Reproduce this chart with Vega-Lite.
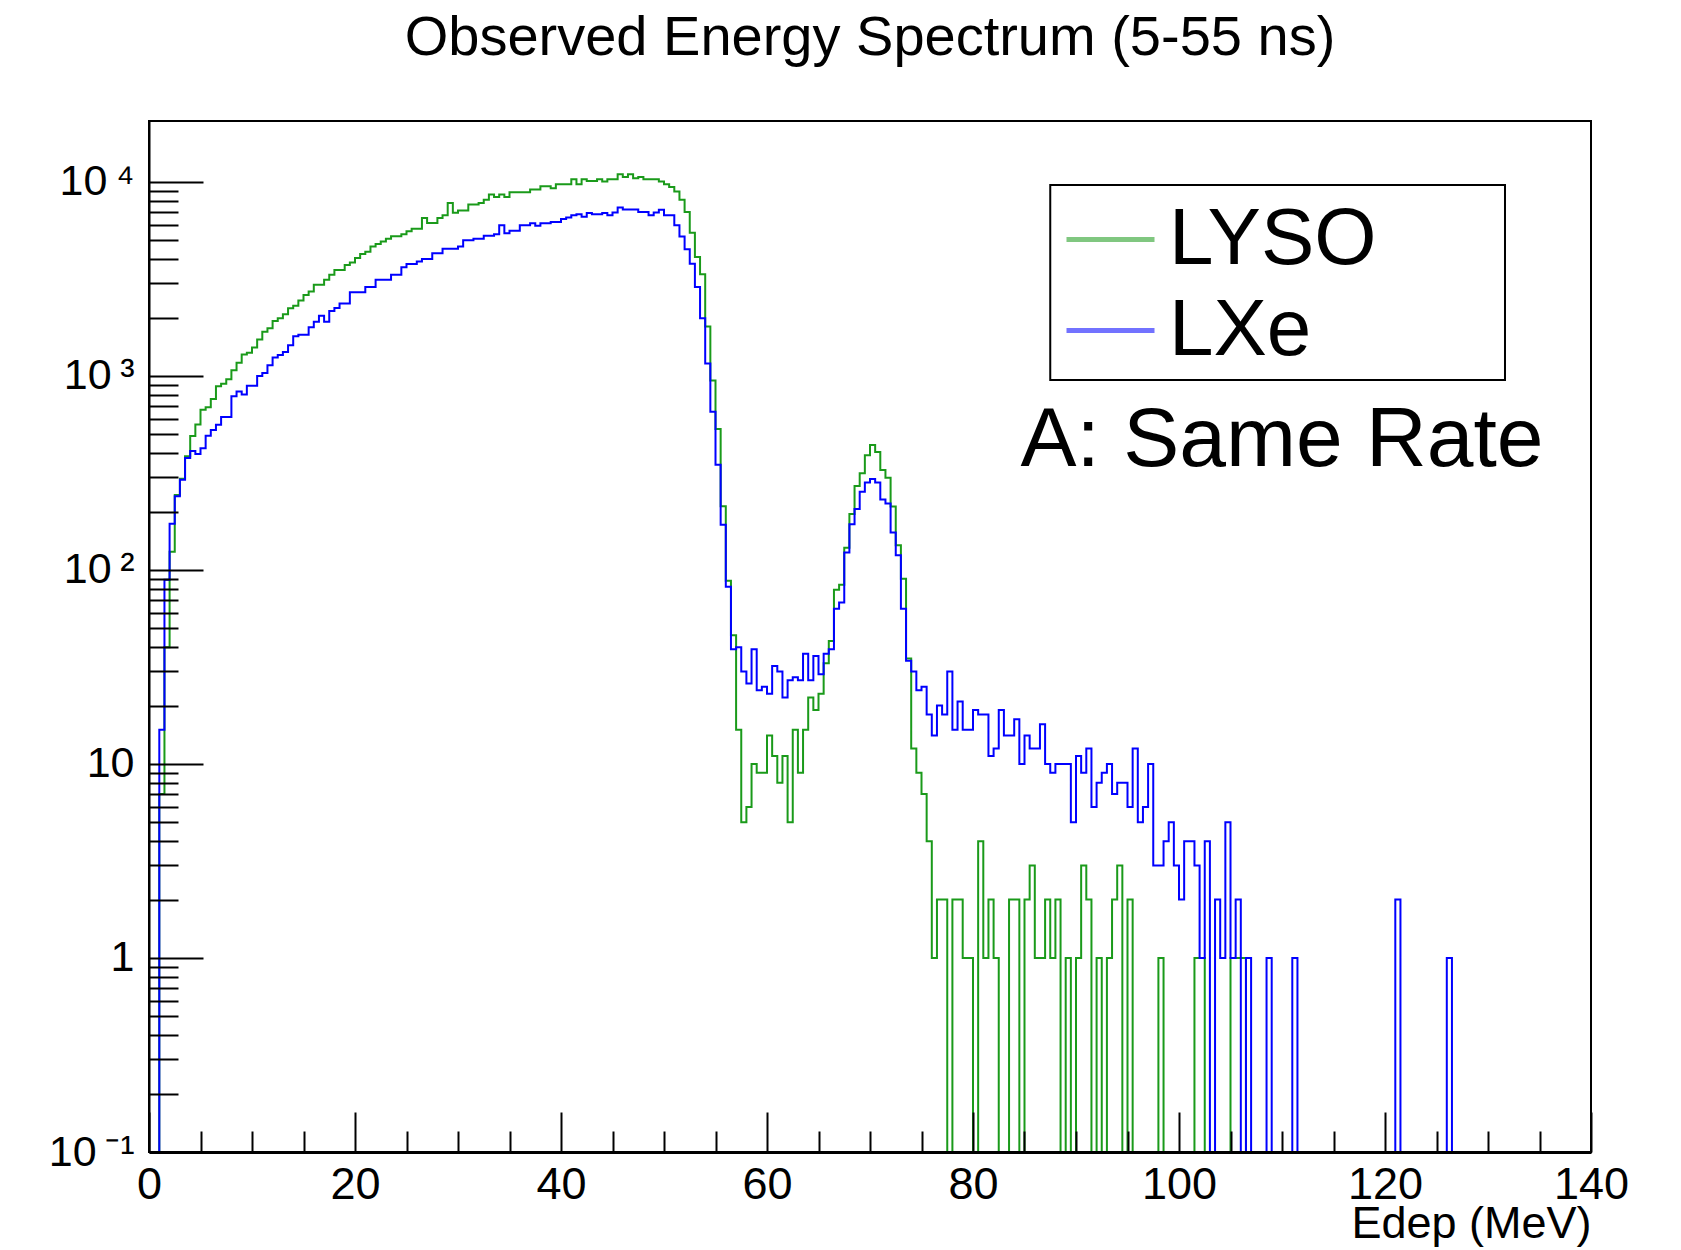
{
"$schema": "https://vega.github.io/schema/vega-lite/v6.json",
"width": 1442, "height": 1031,
"autosize": {"type": "none"},
"padding": {"left": 149, "top": 121, "right": 90, "bottom": 98},
"background": "white",
"title": {"text": "Observed Energy Spectrum (5-55 ns)", "font": "Liberation Sans", "fontSize": 56, "fontWeight": "normal", "color": "black", "anchor": "middle", "frame": "group", "baseline": "alphabetic", "offset": 10},
"config": {"view": {"stroke": "black", "strokeWidth": 2}, "font": "Liberation Sans"},
"layer": [
{
"data": {"values": [
{"e":0,"LYSO":0,"LXe":0},{"e":0.5,"LYSO":0,"LXe":0},{"e":1,"LYSO":7,"LXe":15},{"e":1.5,"LYSO":40,"LXe":89},
{"e":2,"LYSO":124,"LXe":173},{"e":2.5,"LYSO":243,"LXe":240},{"e":3,"LYSO":295,"LXe":292},{"e":3.5,"LYSO":386,"LXe":378},
{"e":4,"LYSO":490,"LXe":410},{"e":4.5,"LYSO":562,"LXe":396},{"e":5,"LYSO":670,"LXe":424},{"e":5.5,"LYSO":690,"LXe":492},
{"e":6,"LYSO":760,"LXe":527},{"e":6.5,"LYSO":885,"LXe":560},{"e":7,"LYSO":910,"LXe":614},{"e":7.5,"LYSO":960,"LXe":614},
{"e":8,"LYSO":1070,"LXe":785},{"e":8.5,"LYSO":1170,"LXe":831},{"e":9,"LYSO":1290,"LXe":803},{"e":9.5,"LYSO":1315,"LXe":890},
{"e":10,"LYSO":1400,"LXe":890},{"e":10.5,"LYSO":1540,"LXe":1000},{"e":11,"LYSO":1690,"LXe":1035},{"e":11.5,"LYSO":1760,"LXe":1135},
{"e":12,"LYSO":1920,"LXe":1245},{"e":12.5,"LYSO":1980,"LXe":1280},{"e":13,"LYSO":2080,"LXe":1330},{"e":13.5,"LYSO":2230,"LXe":1440},
{"e":14,"LYSO":2300,"LXe":1600},{"e":14.5,"LYSO":2450,"LXe":1630},{"e":15,"LYSO":2610,"LXe":1630},{"e":15.5,"LYSO":2720,"LXe":1780},
{"e":16,"LYSO":2950,"LXe":1900},{"e":16.5,"LYSO":2950,"LXe":2040},{"e":17,"LYSO":3130,"LXe":1900},{"e":17.5,"LYSO":3320,"LXe":2160},
{"e":18,"LYSO":3520,"LXe":2240},{"e":18.5,"LYSO":3520,"LXe":2360},{"e":19,"LYSO":3730,"LXe":2360},{"e":19.5,"LYSO":3840,"LXe":2700},
{"e":20,"LYSO":4050,"LXe":2700},{"e":20.5,"LYSO":4250,"LXe":2700},{"e":21,"LYSO":4370,"LXe":2870},{"e":21.5,"LYSO":4650,"LXe":2870},
{"e":22,"LYSO":4790,"LXe":3130},{"e":22.5,"LYSO":4930,"LXe":3130},{"e":23,"LYSO":5090,"LXe":3130},{"e":23.5,"LYSO":5250,"LXe":3320},
{"e":24,"LYSO":5250,"LXe":3320},{"e":24.5,"LYSO":5380,"LXe":3630},{"e":25,"LYSO":5560,"LXe":3770},{"e":25.5,"LYSO":5740,"LXe":3770},
{"e":26,"LYSO":5740,"LXe":3890},{"e":26.5,"LYSO":6520,"LXe":4000},{"e":27,"LYSO":6140,"LXe":4000},{"e":27.5,"LYSO":6140,"LXe":4290},
{"e":28,"LYSO":6520,"LXe":4290},{"e":28.5,"LYSO":6730,"LXe":4520},{"e":29,"LYSO":7790,"LXe":4520},{"e":29.5,"LYSO":6940,"LXe":4520},
{"e":30,"LYSO":7130,"LXe":4640},{"e":30.5,"LYSO":7130,"LXe":5000},{"e":31,"LYSO":7640,"LXe":5000},{"e":31.5,"LYSO":7640,"LXe":5100},
{"e":32,"LYSO":7790,"LXe":5100},{"e":32.5,"LYSO":8100,"LXe":5270},{"e":33,"LYSO":8600,"LXe":5270},{"e":33.5,"LYSO":8360,"LXe":5380},
{"e":34,"LYSO":8600,"LXe":5970},{"e":34.5,"LYSO":8360,"LXe":5440},{"e":35,"LYSO":8840,"LXe":5600},{"e":35.5,"LYSO":8840,"LXe":5600},
{"e":36,"LYSO":8840,"LXe":5970},{"e":36.5,"LYSO":8840,"LXe":5970},{"e":37,"LYSO":9130,"LXe":6130},{"e":37.5,"LYSO":9130,"LXe":5950},
{"e":38,"LYSO":9500,"LXe":6130},{"e":38.5,"LYSO":9500,"LXe":6130},{"e":39,"LYSO":9270,"LXe":6220},{"e":39.5,"LYSO":9730,"LXe":6220},
{"e":40,"LYSO":9730,"LXe":6430},{"e":40.5,"LYSO":9730,"LXe":6550},{"e":41,"LYSO":10320,"LXe":6730},{"e":41.5,"LYSO":9730,"LXe":6810},
{"e":42,"LYSO":10320,"LXe":6610},{"e":42.5,"LYSO":10120,"LXe":6920},{"e":43,"LYSO":10120,"LXe":6810},{"e":43.5,"LYSO":10320,"LXe":6810},
{"e":44,"LYSO":10040,"LXe":6920},{"e":44.5,"LYSO":10320,"LXe":6730},{"e":45,"LYSO":10320,"LXe":6950},{"e":45.5,"LYSO":10960,"LXe":7380},
{"e":46,"LYSO":10610,"LXe":7200},{"e":46.5,"LYSO":10960,"LXe":7200},{"e":47,"LYSO":10450,"LXe":7200},{"e":47.5,"LYSO":10610,"LXe":7000},
{"e":48,"LYSO":10320,"LXe":7000},{"e":48.5,"LYSO":10320,"LXe":6730},{"e":49,"LYSO":10320,"LXe":6950},{"e":49.5,"LYSO":10040,"LXe":7180},
{"e":50,"LYSO":9730,"LXe":6730},{"e":50.5,"LYSO":9420,"LXe":6730},{"e":51,"LYSO":8910,"LXe":5980},{"e":51.5,"LYSO":8090,"LXe":5230},
{"e":52,"LYSO":6990,"LXe":4500},{"e":52.5,"LYSO":5470,"LXe":3780},{"e":53,"LYSO":4100,"LXe":2870},{"e":53.5,"LYSO":3340,"LXe":1985},
{"e":54,"LYSO":1800,"LXe":1160},{"e":54.5,"LYSO":948,"LXe":654},{"e":55,"LYSO":533,"LXe":348},{"e":55.5,"LYSO":213,"LXe":171},
{"e":56,"LYSO":88,"LXe":82},{"e":56.5,"LYSO":46,"LXe":39},{"e":57,"LYSO":15,"LXe":40},{"e":57.5,"LYSO":5,"LXe":30},
{"e":58,"LYSO":6,"LXe":26},{"e":58.5,"LYSO":10,"LXe":39},{"e":59,"LYSO":9,"LXe":24},{"e":59.5,"LYSO":9,"LXe":25},
{"e":60,"LYSO":14,"LXe":23},{"e":60.5,"LYSO":11,"LXe":32},{"e":61,"LYSO":8,"LXe":30},{"e":61.5,"LYSO":11,"LXe":22},
{"e":62,"LYSO":5,"LXe":27},{"e":62.5,"LYSO":15,"LXe":28},{"e":63,"LYSO":9,"LXe":27},{"e":63.5,"LYSO":15,"LXe":37},
{"e":64,"LYSO":22,"LXe":27},{"e":64.5,"LYSO":19,"LXe":36},{"e":65,"LYSO":23,"LXe":29},{"e":65.5,"LYSO":33,"LXe":37},
{"e":66,"LYSO":43,"LXe":39},{"e":66.5,"LYSO":79,"LXe":63},{"e":67,"LYSO":84,"LXe":68},{"e":67.5,"LYSO":130,"LXe":123},
{"e":68,"LYSO":194,"LXe":172},{"e":68.5,"LYSO":271,"LXe":206},{"e":69,"LYSO":315,"LXe":253},{"e":69.5,"LYSO":390,"LXe":282},
{"e":70,"LYSO":440,"LXe":294},{"e":70.5,"LYSO":405,"LXe":282},{"e":71,"LYSO":327,"LXe":231},{"e":71.5,"LYSO":299,"LXe":220},
{"e":72,"LYSO":212,"LXe":156},{"e":72.5,"LYSO":134,"LXe":119},{"e":73,"LYSO":90,"LXe":63},{"e":73.5,"LYSO":35,"LXe":34},
{"e":74,"LYSO":12,"LXe":30},{"e":74.5,"LYSO":9,"LXe":24},{"e":75,"LYSO":7,"LXe":25},{"e":75.5,"LYSO":4,"LXe":18},
{"e":76,"LYSO":1,"LXe":14},{"e":76.5,"LYSO":2,"LXe":20},{"e":77,"LYSO":2,"LXe":18},{"e":77.5,"LYSO":0,"LXe":30},
{"e":78,"LYSO":2,"LXe":15},{"e":78.5,"LYSO":2,"LXe":21},{"e":79,"LYSO":1,"LXe":15},{"e":79.5,"LYSO":1,"LXe":15},
{"e":80,"LYSO":0,"LXe":19},{"e":80.5,"LYSO":4,"LXe":18},{"e":81,"LYSO":1,"LXe":18},{"e":81.5,"LYSO":2,"LXe":11},
{"e":82,"LYSO":1,"LXe":12},{"e":82.5,"LYSO":0,"LXe":19},{"e":83,"LYSO":0,"LXe":14},{"e":83.5,"LYSO":2,"LXe":14},
{"e":84,"LYSO":2,"LXe":17},{"e":84.5,"LYSO":0,"LXe":10},{"e":85,"LYSO":2,"LXe":14},{"e":85.5,"LYSO":3,"LXe":12},
{"e":86,"LYSO":1,"LXe":12},{"e":86.5,"LYSO":1,"LXe":16},{"e":87,"LYSO":2,"LXe":10},{"e":87.5,"LYSO":1,"LXe":9},
{"e":88,"LYSO":2,"LXe":10},{"e":88.5,"LYSO":0,"LXe":10},{"e":89,"LYSO":1,"LXe":10},{"e":89.5,"LYSO":0,"LXe":5},
{"e":90,"LYSO":1,"LXe":11},{"e":90.5,"LYSO":3,"LXe":9},{"e":91,"LYSO":2,"LXe":12},{"e":91.5,"LYSO":0,"LXe":6},
{"e":92,"LYSO":1,"LXe":8},{"e":92.5,"LYSO":0,"LXe":9},{"e":93,"LYSO":1,"LXe":10},{"e":93.5,"LYSO":2,"LXe":7},
{"e":94,"LYSO":3,"LXe":8},{"e":94.5,"LYSO":0,"LXe":8},{"e":95,"LYSO":2,"LXe":6},{"e":95.5,"LYSO":0,"LXe":12},
{"e":96,"LYSO":0,"LXe":5},{"e":96.5,"LYSO":0,"LXe":6},{"e":97,"LYSO":0,"LXe":10},{"e":97.5,"LYSO":0,"LXe":3},
{"e":98,"LYSO":1,"LXe":3},{"e":98.5,"LYSO":0,"LXe":4},{"e":99,"LYSO":0,"LXe":5},{"e":99.5,"LYSO":0,"LXe":3},
{"e":100,"LYSO":0,"LXe":2},{"e":100.5,"LYSO":0,"LXe":4},{"e":101,"LYSO":0,"LXe":4},{"e":101.5,"LYSO":1,"LXe":3},
{"e":102,"LYSO":1,"LXe":1},{"e":102.5,"LYSO":0,"LXe":4},{"e":103,"LYSO":0,"LXe":0},{"e":103.5,"LYSO":0,"LXe":2},
{"e":104,"LYSO":0,"LXe":1},{"e":104.5,"LYSO":0,"LXe":5},{"e":105,"LYSO":1,"LXe":1},{"e":105.5,"LYSO":1,"LXe":2},
{"e":106,"LYSO":1,"LXe":0},{"e":106.5,"LYSO":0,"LXe":1},{"e":107,"LYSO":0,"LXe":0},{"e":107.5,"LYSO":0,"LXe":0},
{"e":108,"LYSO":0,"LXe":0},{"e":108.5,"LYSO":0,"LXe":1},{"e":109,"LYSO":0,"LXe":0},{"e":109.5,"LYSO":0,"LXe":0},
{"e":110,"LYSO":0,"LXe":0},{"e":110.5,"LYSO":0,"LXe":0},{"e":111,"LYSO":0,"LXe":1},{"e":111.5,"LYSO":0,"LXe":0},
{"e":112,"LYSO":0,"LXe":0},{"e":112.5,"LYSO":0,"LXe":0},{"e":113,"LYSO":0,"LXe":0},{"e":113.5,"LYSO":0,"LXe":0},
{"e":114,"LYSO":0,"LXe":0},{"e":114.5,"LYSO":0,"LXe":0},{"e":115,"LYSO":0,"LXe":0},{"e":115.5,"LYSO":0,"LXe":0},
{"e":116,"LYSO":0,"LXe":0},{"e":116.5,"LYSO":0,"LXe":0},{"e":117,"LYSO":0,"LXe":0},{"e":117.5,"LYSO":0,"LXe":0},
{"e":118,"LYSO":0,"LXe":0},{"e":118.5,"LYSO":0,"LXe":0},{"e":119,"LYSO":0,"LXe":0},{"e":119.5,"LYSO":0,"LXe":0},
{"e":120,"LYSO":0,"LXe":0},{"e":120.5,"LYSO":0,"LXe":0},{"e":121,"LYSO":0,"LXe":2},{"e":121.5,"LYSO":0,"LXe":0},
{"e":122,"LYSO":0,"LXe":0},{"e":122.5,"LYSO":0,"LXe":0},{"e":123,"LYSO":0,"LXe":0},{"e":123.5,"LYSO":0,"LXe":0},
{"e":124,"LYSO":0,"LXe":0},{"e":124.5,"LYSO":0,"LXe":0},{"e":125,"LYSO":0,"LXe":0},{"e":125.5,"LYSO":0,"LXe":0},
{"e":126,"LYSO":0,"LXe":1},{"e":126.5,"LYSO":0,"LXe":0},{"e":127,"LYSO":0,"LXe":0},{"e":127.5,"LYSO":0,"LXe":0},
{"e":128,"LYSO":0,"LXe":0},{"e":128.5,"LYSO":0,"LXe":0},{"e":129,"LYSO":0,"LXe":0},{"e":129.5,"LYSO":0,"LXe":0},
{"e":130,"LYSO":0,"LXe":0},{"e":130.5,"LYSO":0,"LXe":0},{"e":131,"LYSO":0,"LXe":0},{"e":131.5,"LYSO":0,"LXe":0},
{"e":132,"LYSO":0,"LXe":0},{"e":132.5,"LYSO":0,"LXe":0},{"e":133,"LYSO":0,"LXe":0},{"e":133.5,"LYSO":0,"LXe":0},
{"e":134,"LYSO":0,"LXe":0},{"e":134.5,"LYSO":0,"LXe":0},{"e":135,"LYSO":0,"LXe":0},{"e":135.5,"LYSO":0,"LXe":0},
{"e":136,"LYSO":0,"LXe":0},{"e":136.5,"LYSO":0,"LXe":0},{"e":137,"LYSO":0,"LXe":0},{"e":137.5,"LYSO":0,"LXe":0},
{"e":138,"LYSO":0,"LXe":0},{"e":138.5,"LYSO":0,"LXe":0},{"e":139,"LYSO":0,"LXe":0},{"e":139.5,"LYSO":0,"LXe":0}
]},
"transform": [{"fold": ["LYSO", "LXe"], "as": ["det", "n"]}],
"encoding": {
 "x": {"field": "e", "type": "quantitative", "scale": {"domain": [0, 140], "nice": false, "zero": false},
  "axis": {"values": [0,5,10,15,20,25,30,35,40,45,50,55,60,65,70,75,80,85,90,95,100,105,110,115,120,125,130,135,140],
   "title": "Edep (MeV)", "titleFont": "Liberation Sans", "titleFontSize": 45, "titleFontWeight": "normal", "titleColor": "black",
   "titleX": 1442, "titleY": 85, "titleAlign": "right", "titleBaseline": "alphabetic", "titleAnchor": null, "titleAngle": 0,
   "labelExpr": "datum.value % 20 === 0 ? datum.label : ''", "format": "d",
   "labelFont": "Liberation Sans", "labelFontSize": 45, "labelColor": "black", "labelPadding": 50, "labelOverlap": false, "labelFlush": false,
   "tickSize": {"condition": {"test": "datum.value % 20 === 0", "value": -40}, "value": -21},
   "tickColor": "black", "tickWidth": 2, "domainColor": "black", "domainWidth": 3, "grid": false, "zindex": 1}},
 "y": {"field": "n", "type": "quantitative", "scale": {"type": "log", "domain": [0.1, 20600], "nice": false, "clamp": true},
  "axis": {"values": [0.1,0.2,0.3,0.4,0.5,0.6,0.7,0.8,0.9,1,2,3,4,5,6,7,8,9,10,20,30,40,50,60,70,80,90,100,200,300,400,500,600,700,800,900,1000,2000,3000,4000,5000,6000,7000,8000,9000,10000],
   "title": null,
   "labelExpr": "datum.value === 0.1 ? '10\u2009⁻¹' : datum.value === 1 ? '1' : datum.value === 10 ? '10' : datum.value === 100 ? '10\u2009²' : datum.value === 1000 ? '10\u2009³' : datum.value === 10000 ? '10\u2009⁴' : ''",
   "labelFont": "Liberation Sans", "labelFontSize": 43, "labelColor": "black", "labelPadding": 69, "labelOverlap": false, "labelFlush": false, "labelBaseline": "middle",
   "tickSize": {"condition": {"test": "datum.value === 0.1 || datum.value === 1 || datum.value === 10 || datum.value === 100 || datum.value === 1000 || datum.value === 10000", "value": -54}, "value": -29},
   "tickColor": "black", "tickWidth": 2, "domainColor": "black", "domainWidth": 2, "grid": false, "zindex": 1}},
 "color": {"field": "det", "type": "nominal", "scale": {"domain": ["LYSO", "LXe"], "range": ["#1a9a1a", "#0000ff"]},
  "legend": {"orient": "none", "legendX": 901, "legendY": 58, "title": null,
   "symbolType": "stroke", "symbolSize": 7744, "symbolStrokeWidth": 5, "symbolOpacity": 0.55,
   "labelFont": "Liberation Sans", "labelFontSize": 80, "labelColor": "black", "labelOffset": 12, "labelLimit": 2000,
   "padding": 14, "rowPadding": 4}}
},
"layer": [
 {"transform": [{"filter": "datum.det === 'LYSO'"}], "mark": {"type": "line", "interpolate": "step-after", "strokeWidth": 2, "clip": true}},
 {"transform": [{"filter": "datum.det === 'LXe'"}], "mark": {"type": "line", "interpolate": "step-after", "strokeWidth": 2, "clip": true}}
]
},
{
"data": {"values": [{}]},
"mark": {"type": "rect", "fill": "white", "stroke": "black", "strokeWidth": 2},
"encoding": {"x": {"datum": 87.5, "type": "quantitative"}, "x2": {"datum": 131.65}, "y": {"datum": 9638, "type": "quantitative"}, "y2": {"datum": 953}}
},
{
"data": {"values": [{}]},
"mark": {"type": "text", "font": "Liberation Sans", "fontSize": 84, "align": "center", "baseline": "alphabetic", "color": "black"},
"encoding": {"x": {"datum": 110, "type": "quantitative"}, "y": {"datum": 344, "type": "quantitative"}, "text": {"value": "A: Same Rate"}}
}
]
}
